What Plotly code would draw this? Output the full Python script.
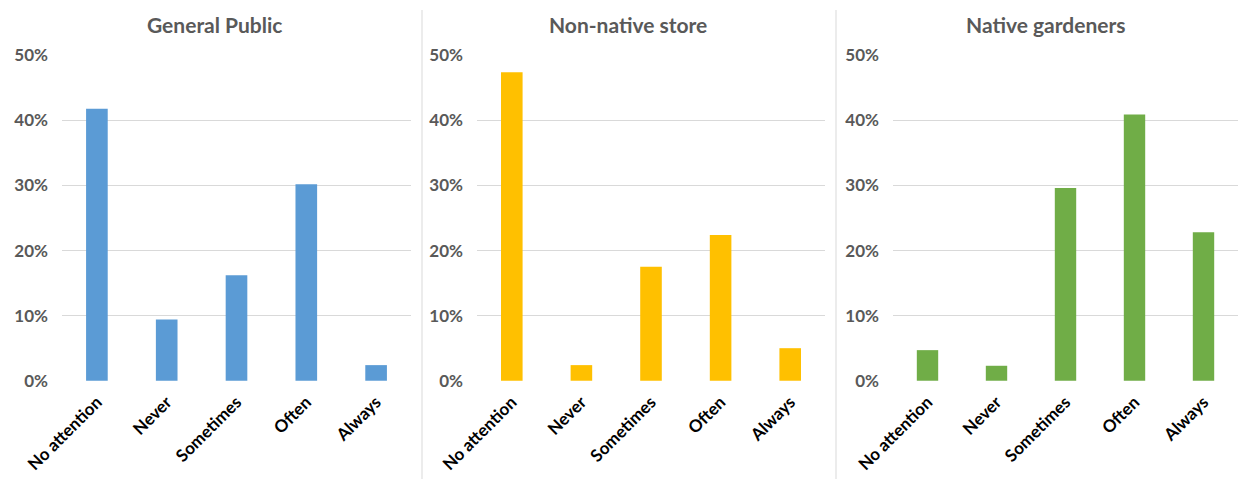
import plotly.graph_objects as go

# Survey responses by group
categories = ["No attention", "Never", "Sometimes", "Often", "Always"]
general_public = [0.418, 0.094, 0.162, 0.302, 0.024]
non_native_store = [0.474, 0.024, 0.175, 0.224, 0.050]
native_gardeners = [0.047, 0.023, 0.296, 0.409, 0.228]
panel_titles = ["General Public", "Non-native store", "Native gardeners"]
y_ticks = [0, 0.1, 0.2, 0.3, 0.4, 0.5]
y_tick_labels = ["0%", "10%", "20%", "30%", "40%", "50%"]

W, H = 1238, 479
FONT = "Lato, 'Open Sans', sans-serif"
GREY = "#595959"
GRID = "#d9d9d9"

series = [general_public, non_native_store, native_gardeners]
colors = ["#5b9bd5", "#ffc000", "#70ad47"]
# horizontal extents of each plotting area (px)
x_spans = [(62, 411), (477, 825), (893, 1238)]
title_shift = [-22, -23, -20]
y_span = (381, 55)  # pixel rows of 0% and 50%

fig = go.Figure()
for i, (vals, col, (x0, x1)) in enumerate(zip(series, colors, x_spans)):
    suffix = "" if i == 0 else str(i + 1)
    fig.add_trace(go.Bar(
        x=categories, y=vals, marker=dict(color=col, line=dict(width=0)),
        width=0.31, xaxis="x" + suffix, yaxis="y" + suffix,
        showlegend=False, hoverinfo="x+y",
    ))
    fig.layout["xaxis" + suffix] = dict(
        domain=[x0 / W, x1 / W], anchor="y" + suffix, automargin=False,
        tickangle=-45, showgrid=False, zeroline=False, showline=False,
        ticks="", ticklabelstandoff=7,
        tickfont=dict(family=FONT, size=17, color="#000000", weight="bold"),
        categoryorder="array", categoryarray=categories,
    )
    fig.layout["yaxis" + suffix] = dict(
        domain=[(H - y_span[0]) / H, (H - y_span[1]) / H], anchor="x" + suffix,
        automargin=False,
        range=[-0.0004, 0.5004], tickvals=y_ticks, ticktext=y_tick_labels,
        showgrid=True, gridcolor=GRID, gridwidth=1, zeroline=False,
        showline=False, ticks="", ticklabelstandoff=13,
        tickfont=dict(family=FONT, size=17, color=GREY, weight="bold"),
    )
    fig.add_annotation(
        text=panel_titles[i], x=((x0 + x1) / 2 + title_shift[i]) / W,
        y=(H - 24) / H, xref="paper", yref="paper", showarrow=False,
        xanchor="center", yanchor="middle",
        font=dict(family=FONT, size=21, color=GREY, weight="bold"),
    )

# thin dividers between panels
for xd in (422, 836):
    fig.add_shape(type="line", xref="paper", yref="paper",
                  x0=xd / W, x1=xd / W, y0=0, y1=(H - 10) / H,
                  line=dict(color=GRID, width=1))

fig.update_layout(
    width=W, height=H, margin=dict(l=0, r=0, t=0, b=0, autoexpand=False),
    paper_bgcolor="white", plot_bgcolor="white", bargap=0.69,
)
fig.write_html("out.html")
